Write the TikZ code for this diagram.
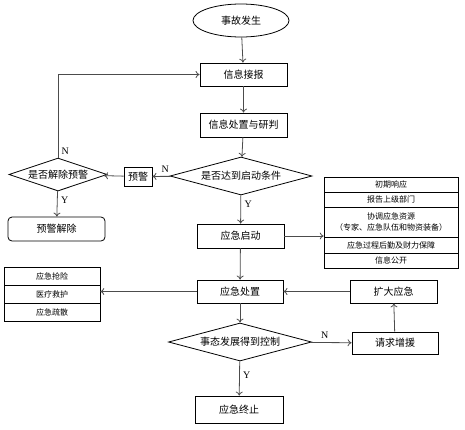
\documentclass[tikz,border=0pt]{standalone}
\usepackage{fontspec}
\setmainfont{Liberation Serif}
\newfontfamily\cjk{Noto Sans CJK SC}
\usetikzlibrary{shapes.geometric,arrows.meta}

\tikzset{
	box/.style={draw, line width=0.8pt, rectangle, inner sep=0pt, font=\cjk\fontsize{10}{12}\selectfont},
	decision/.style={draw, line width=0.8pt, diamond, aspect=3.7, inner sep=0pt, font=\cjk\fontsize{10}{12}\selectfont},
	item/.style={draw, line width=0.6pt, rectangle, inner sep=0pt, minimum width=#1, font=\cjk\fontsize{8}{11.5}\selectfont, align=center},
	flow/.style={draw=black!70, line width=0.8pt, -{To[length=4pt,width=7pt]}},
	yn/.style={font=\fontsize{10}{12}\selectfont}
}

\begin{document}
\begin{tikzpicture}[x=1pt, y=-1pt]
	\useasboundingbox (0,0) rectangle (465,429);

	\node[box, ellipse, minimum width=96, minimum height=33] (start) at (241,20.5) {事故发生};
	\node[box, minimum width=87, minimum height=23] (report) at (243.5,74.5) {信息接报};
	\node[box, minimum width=87, minimum height=24] (judge) at (243.5,125) {信息处置与研判};
	\node[decision, minimum width=142, minimum height=38] (cond) at (241,176) {是否达到启动条件};
	\node[box, minimum width=28, minimum height=19] (warn) at (138,176.5) {预警};
	\node[decision, minimum width=98, minimum height=33] (lift) at (58,174.5) {是否解除预警};
	\node[box, rounded corners=4pt, minimum width=97, minimum height=24] (lifted) at (56.5,229) {预警解除};
	\node[box, minimum width=87, minimum height=24] (launch) at (240.5,236) {应急启动};

	% response measures
	\node[item=134, minimum height=15] (r1) at (391,184.5) {初期响应};
	\node[item=134, minimum height=15] (r2) at (391,199.5) {报告上级部门};
	\node[item=134, minimum height=30] (r3) at (391,222) {协调应急资源\\（专家、应急队伍和物资装备）};
	\node[item=134, minimum height=16] (r4) at (391,245) {应急过程后勤及财力保障};
	\node[item=134, minimum height=15] (r5) at (391,260.5) {信息公开};

	\node[box, minimum width=86, minimum height=23] (handle) at (240,291.5) {应急处置};

	% rescue tasks
	\node[item=96, minimum height=18] (l1) at (52,276) {应急抢险};
	\node[item=96, minimum height=18] (l2) at (52,294) {医疗救护};
	\node[item=96, minimum height=18] (l3) at (52,312) {应急疏散};

	\node[box, minimum width=87, minimum height=23] (expand) at (393.5,291.5) {扩大应急};
	\node[decision, minimum width=143, minimum height=38] (control) at (240,342) {事态发展得到控制};
	\node[box, minimum width=86, minimum height=22] (request) at (395,343) {请求增援};
	\node[box, minimum width=88, minimum height=27] (finish) at (239,409.5) {应急终止};

	\draw[flow] (start) -- (report);
	\draw[flow] (report) -- (judge);
	\draw[flow] (judge) -- (cond);
	\draw[flow] (cond) -- node[yn, above, pos=0.3] {N} (warn);
	\draw[flow] (warn) -- (lift);
	\draw[flow] (lift.north) -- node[yn, right, pos=0.08] {N} (lift.north |- report.west) -- (report.west);
	\draw[flow] (lift) -- node[yn, right, pos=0.35] {Y} (lifted);
	\draw[flow] (cond) -- node[yn, right, pos=0.3] {Y} (launch);
	\draw[flow] (launch) -- (launch.east -| r3.west);
	\draw[flow] (launch) -- (handle);
	\draw[flow] (handle) -- (handle.west -| l2.east);
	\draw[flow] (expand) -- (handle);
	\draw[flow] (handle) -- (control);
	\draw[flow] (control) -- node[yn, above, pos=0.35] {N} (request);
	\draw[flow] (request) -- (expand);
	\draw[flow] (control) -- node[yn, right, pos=0.4] {Y} (finish);

\end{tikzpicture}
\end{document}
